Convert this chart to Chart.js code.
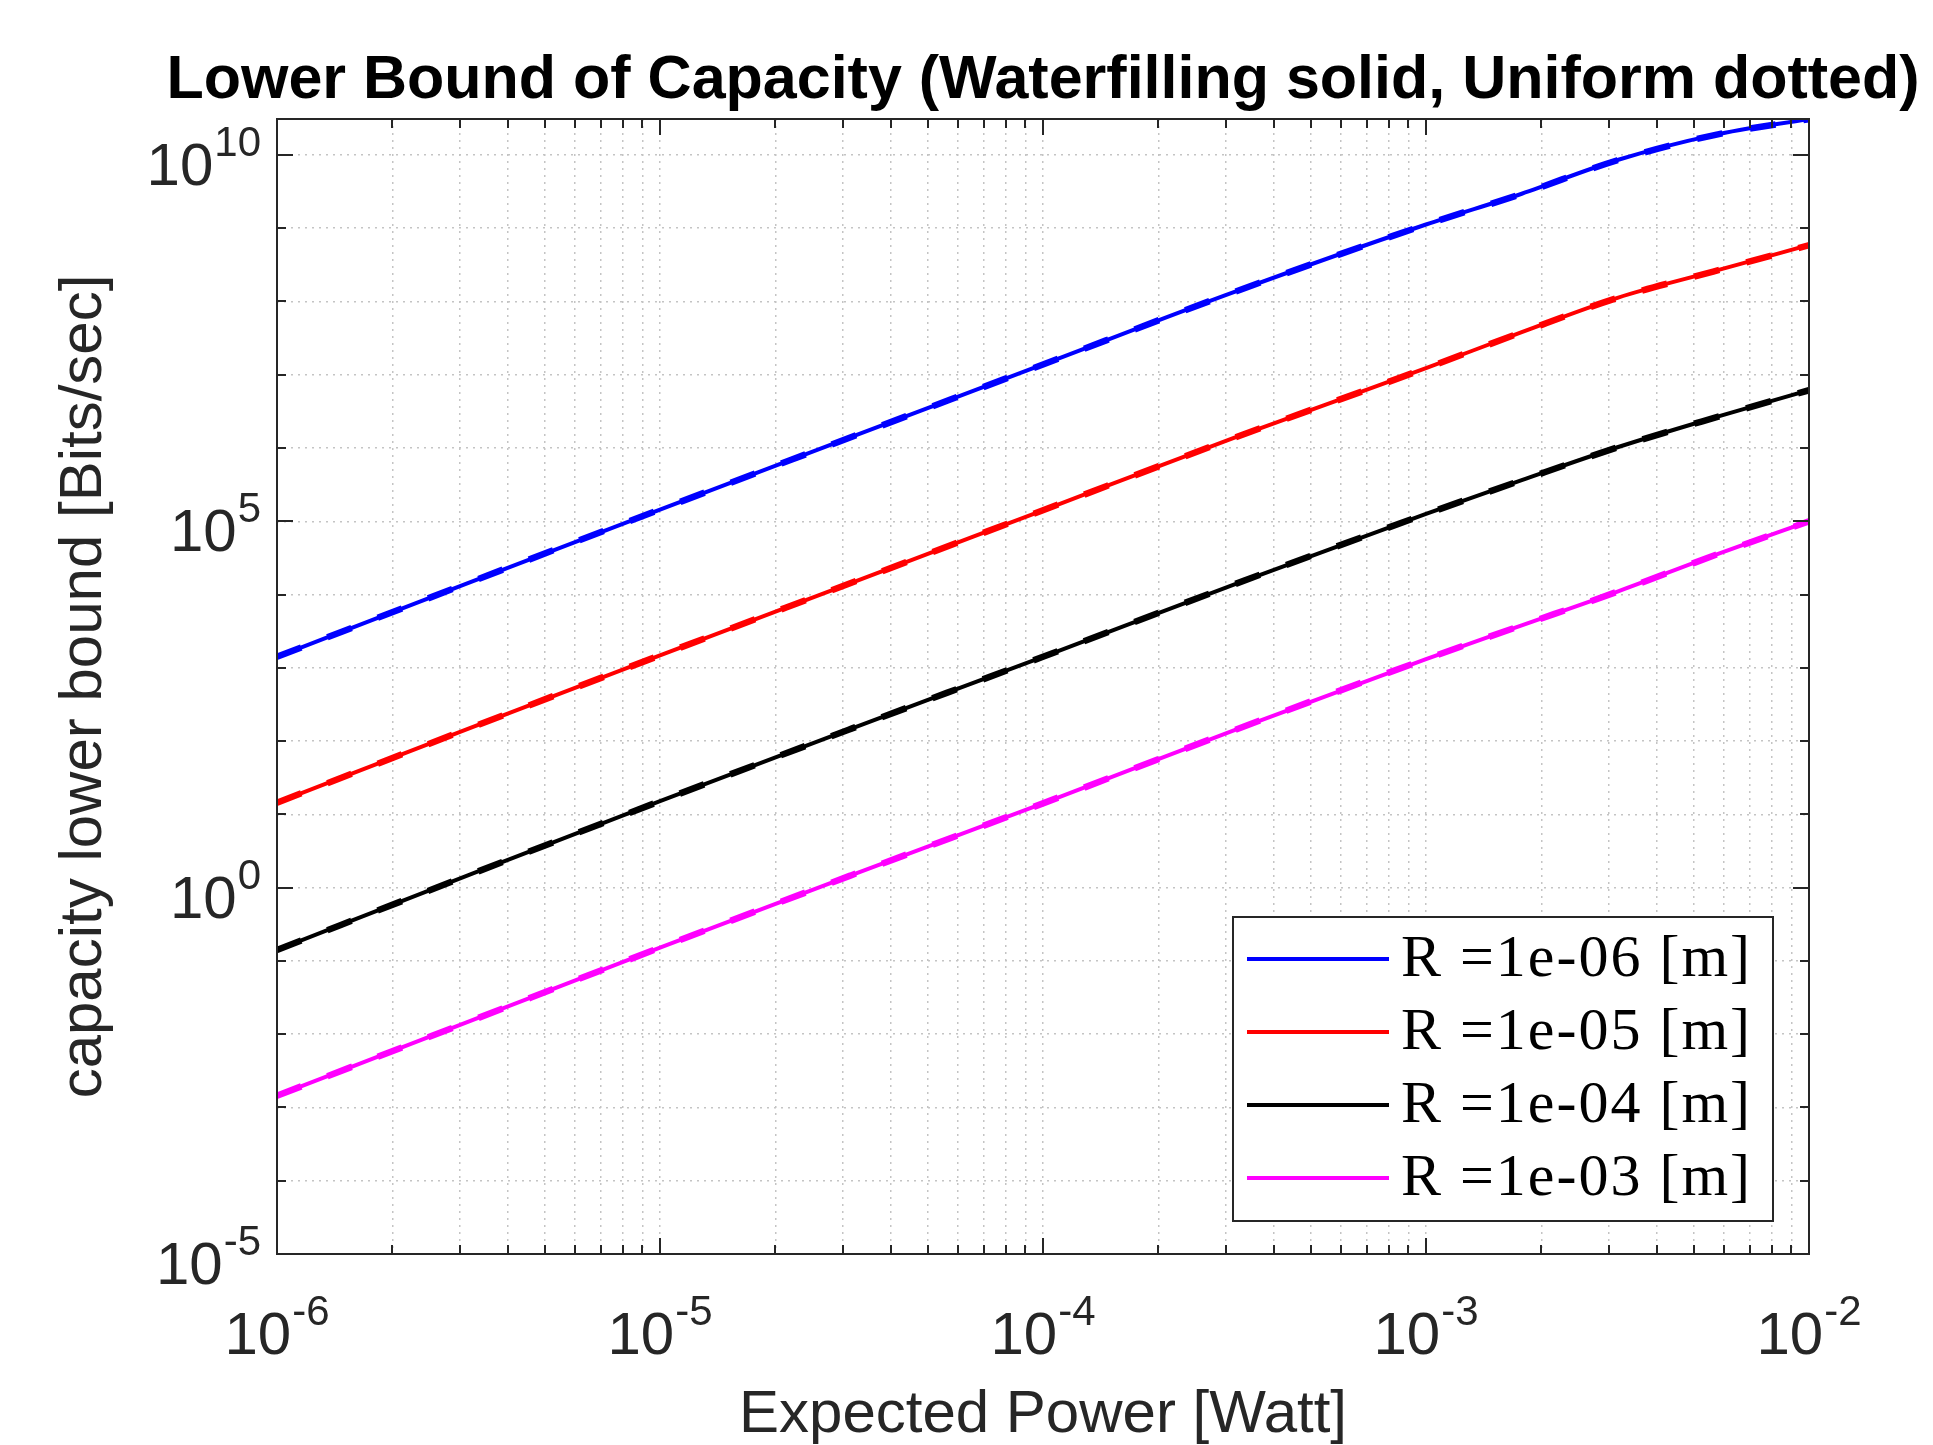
<!DOCTYPE html>
<html>
<head>
<meta charset="utf-8">
<title>Lower Bound of Capacity</title>
<script src="https://cdn.jsdelivr.net/npm/chart.js@4.4.0/dist/chart.umd.min.js"></script>
<style>
  html, body { margin: 0; padding: 0; background: #fff; }
</style>
</head>
<body>
<canvas id="chart" width="1933" height="1445"></canvas>
<script>
// expected power [Watt]
const power = [1e-6, 3.162e-6, 1e-5, 3.162e-5, 1e-4, 3.162e-4, 1e-3, 1.778e-3, 3.162e-3, 5.623e-3, 1e-2];

const radii = ['1e-06', '1e-05', '1e-04', '1e-03'];
const colors = ['#0000ff', '#ff0000', '#000000', '#ff00ff'];

// capacity lower bound [Bits/sec], waterfilling (solid)
const wfR6 = [1413, 14454, 144544, 1.413e6, 1.380e7, 1.349e8, 1.122e9, 2.951e9, 8.51e9, 1.862e10, 3.09e10];
const wfR5 = [14.45, 147.9, 1479, 14454, 141254, 1.380e6, 1.230e7, 3.80e7, 1.122e8, 2.57e8, 5.89e8];
const wfR4 = [0.1413, 1.479, 15.14, 147.9, 1413, 13804, 125893, 363078, 1.023e6, 2.57e6, 6.17e6];
const wfR3 = [1.445e-3, 1.479e-2, 0.1514, 1.479, 14.13, 141.3, 1318, 3802, 10965, 33884, 1.0e5];

// uniform power (dashed)
const unR6 = [1413, 14454, 144544, 1.413e6, 1.380e7, 1.349e8, 1.118e9, 2.94e9, 8.45e9, 1.85e10, 3.07e10];
const unR5 = [14.45, 147.9, 1479, 14454, 141254, 1.380e6, 1.228e7, 3.79e7, 1.118e8, 2.56e8, 5.86e8];
const unR4 = [0.1413, 1.479, 15.14, 147.9, 1413, 13804, 125700, 362500, 1.020e6, 2.56e6, 6.14e6];
const unR3 = [1.445e-3, 1.479e-2, 0.1514, 1.479, 14.13, 141.3, 1316, 3795, 10940, 33800, 0.998e5];

const xTickExps = [-6, -5, -4, -3, -2];
const yTickExps = [-5, 0, 5, 10];

const FONT = "'Liberation Sans', Arial, Helvetica, sans-serif";
const SERIF = "'Liberation Serif', 'Times New Roman', serif";
const AXIS = '#262626';
const GRID = '#c4c4c4';

const wf = [wfR6, wfR5, wfR4, wfR3];
const un = [unR6, unR5, unR4, unR3];
const toPts = arr => power.map((p, i) => ({x: p, y: arr[i]}));

const datasets = [];
radii.forEach((r, k) => {
  datasets.push({
    label: 'R =' + r + ' [m]',
    data: toPts(wf[k]),
    borderColor: colors[k],
    borderWidth: 4,
    pointRadius: 0,
    cubicInterpolationMode: 'monotone',
    solid: true
  });
  datasets.push({
    label: 'R =' + r + ' [m] uniform',
    data: toPts(un[k]),
    borderColor: colors[k],
    borderWidth: 6.5,
    borderDash: [26, 28],
    pointRadius: 0,
    cubicInterpolationMode: 'monotone',
    solid: false
  });
});

// tick values for grid (every 1..9 x 10^k on x, every decade on y)
const xGrid = [];
for (let e = -6; e < -2; e++) {
  for (let m = 1; m < 10; m++) xGrid.push(m * Math.pow(10, e));
}
xGrid.push(1e-2);
const yGrid = [];
for (let e = -5; e <= 10; e++) yGrid.push(Math.pow(10, e));

function powLabel(ctx, exp, x, baseY, align) {
  ctx.font = '60px ' + FONT;
  const wb = ctx.measureText('10').width;
  ctx.font = '42px ' + FONT;
  const es = String(exp);
  const we = ctx.measureText(es).width;
  const total = wb + we + 1;
  const start = align === 'right' ? x - total : x - total / 2;
  ctx.textAlign = 'left';
  ctx.textBaseline = 'alphabetic';
  ctx.font = '60px ' + FONT;
  ctx.fillText('10', start, baseY);
  ctx.font = '42px ' + FONT;
  ctx.fillText(es, start + wb + 1, baseY - 29);
}

const decor = {
  id: 'decor',
  beforeDraw(chart) {
    const ctx = chart.ctx;
    ctx.save();
    ctx.fillStyle = '#fff';
    ctx.fillRect(0, 0, chart.width, chart.height);
    ctx.restore();
  },
  afterDraw(chart) {
    const ctx = chart.ctx;
    const a = chart.chartArea;
    const xs = chart.scales.x, ys = chart.scales.y;
    ctx.save();

    // inward ticks
    ctx.strokeStyle = AXIS;
    ctx.lineWidth = 2;
    ctx.beginPath();
    xGrid.forEach(v => {
      const px = Math.round(xs.getPixelForValue(v));
      const major = Math.abs(Math.log10(v) - Math.round(Math.log10(v))) < 1e-9;
      const len = major ? 16 : 9;
      ctx.moveTo(px, a.bottom); ctx.lineTo(px, a.bottom - len);
      ctx.moveTo(px, a.top); ctx.lineTo(px, a.top + len);
    });
    yGrid.forEach(v => {
      const py = Math.round(ys.getPixelForValue(v));
      const e = Math.round(Math.log10(v));
      const len = e % 5 === 0 ? 16 : 9;
      ctx.moveTo(a.left, py); ctx.lineTo(a.left + len, py);
      ctx.moveTo(a.right, py); ctx.lineTo(a.right - len, py);
    });
    ctx.stroke();

    // box
    ctx.strokeRect(a.left, a.top, a.right - a.left, a.bottom - a.top);

    // tick labels
    ctx.fillStyle = AXIS;
    xTickExps.forEach(e => {
      powLabel(ctx, e, xs.getPixelForValue(Math.pow(10, e)), a.bottom + 100, 'center');
    });
    yTickExps.forEach(e => {
      powLabel(ctx, e, a.left - 16, ys.getPixelForValue(Math.pow(10, e)) + 30, 'right');
    });

    // title
    ctx.fillStyle = '#000';
    ctx.font = 'bold 61px ' + FONT;
    ctx.textAlign = 'center';
    ctx.textBaseline = 'alphabetic';
    ctx.fillText('Lower Bound of Capacity (Waterfilling solid, Uniform dotted)', (a.left + a.right) / 2, 98);

    // legend
    const lx = 1233, ly = 917, lw = 540, lh = 304;
    ctx.fillStyle = '#fff';
    ctx.fillRect(lx, ly, lw, lh);
    ctx.strokeStyle = AXIS;
    ctx.lineWidth = 2;
    ctx.strokeRect(lx, ly, lw, lh);
    const items = chart.data.datasets.filter(d => d.solid);
    items.forEach((d, i) => {
      const ry = 959 + i * 73;
      ctx.strokeStyle = d.borderColor;
      ctx.lineWidth = 4;
      ctx.beginPath();
      ctx.moveTo(1247, ry); ctx.lineTo(1389, ry);
      ctx.stroke();
      ctx.fillStyle = '#000';
      ctx.font = '60px ' + SERIF;
      ctx.textAlign = 'left';
      ctx.letterSpacing = '2px';
      ctx.fillText(d.label, 1401, ry + 17);
      ctx.letterSpacing = '0px';
    });
    ctx.restore();
  }
};

new Chart(document.getElementById('chart'), {
  type: 'line',
  data: { datasets: datasets },
  options: {
    responsive: false,
    animation: false,
    devicePixelRatio: 1,
    layout: { padding: { top: 119, right: 124, left: 0, bottom: 0 } },
    plugins: {
      legend: { display: false },
      tooltip: { enabled: false },
      title: { display: false }
    },
    scales: {
      x: {
        type: 'logarithmic',
        min: 1e-6,
        max: 1e-2,
        afterBuildTicks: s => { s.ticks = xGrid.map(v => ({value: v})); },
        afterFit: s => { s.height = 191; },
        ticks: { display: false },
        grid: { color: GRID, lineWidth: 1.5, drawTicks: false },
        border: { display: false, dash: [2, 5] },
        title: {
          display: true,
          text: 'Expected Power [Watt]',
          color: AXIS,
          font: { family: FONT, size: 60, lineHeight: 1 },
          padding: { top: 0, bottom: 0 }
        }
      },
      y: {
        type: 'logarithmic',
        min: 1e-5,
        max: 3.09e10,
        afterBuildTicks: s => { s.ticks = yGrid.map(v => ({value: v})); },
        afterFit: s => { s.width = 277; },
        ticks: { display: false },
        grid: { color: GRID, lineWidth: 1.5, drawTicks: false },
        border: { display: false, dash: [2, 5] },
        title: {
          display: true,
          text: 'capacity lower bound [Bits/sec]',
          color: AXIS,
          font: { family: FONT, size: 60, lineHeight: 1 },
          padding: { top: 54, bottom: 0 }
        }
      }
    }
  },
  plugins: [decor]
});
</script>
</body>
</html>
